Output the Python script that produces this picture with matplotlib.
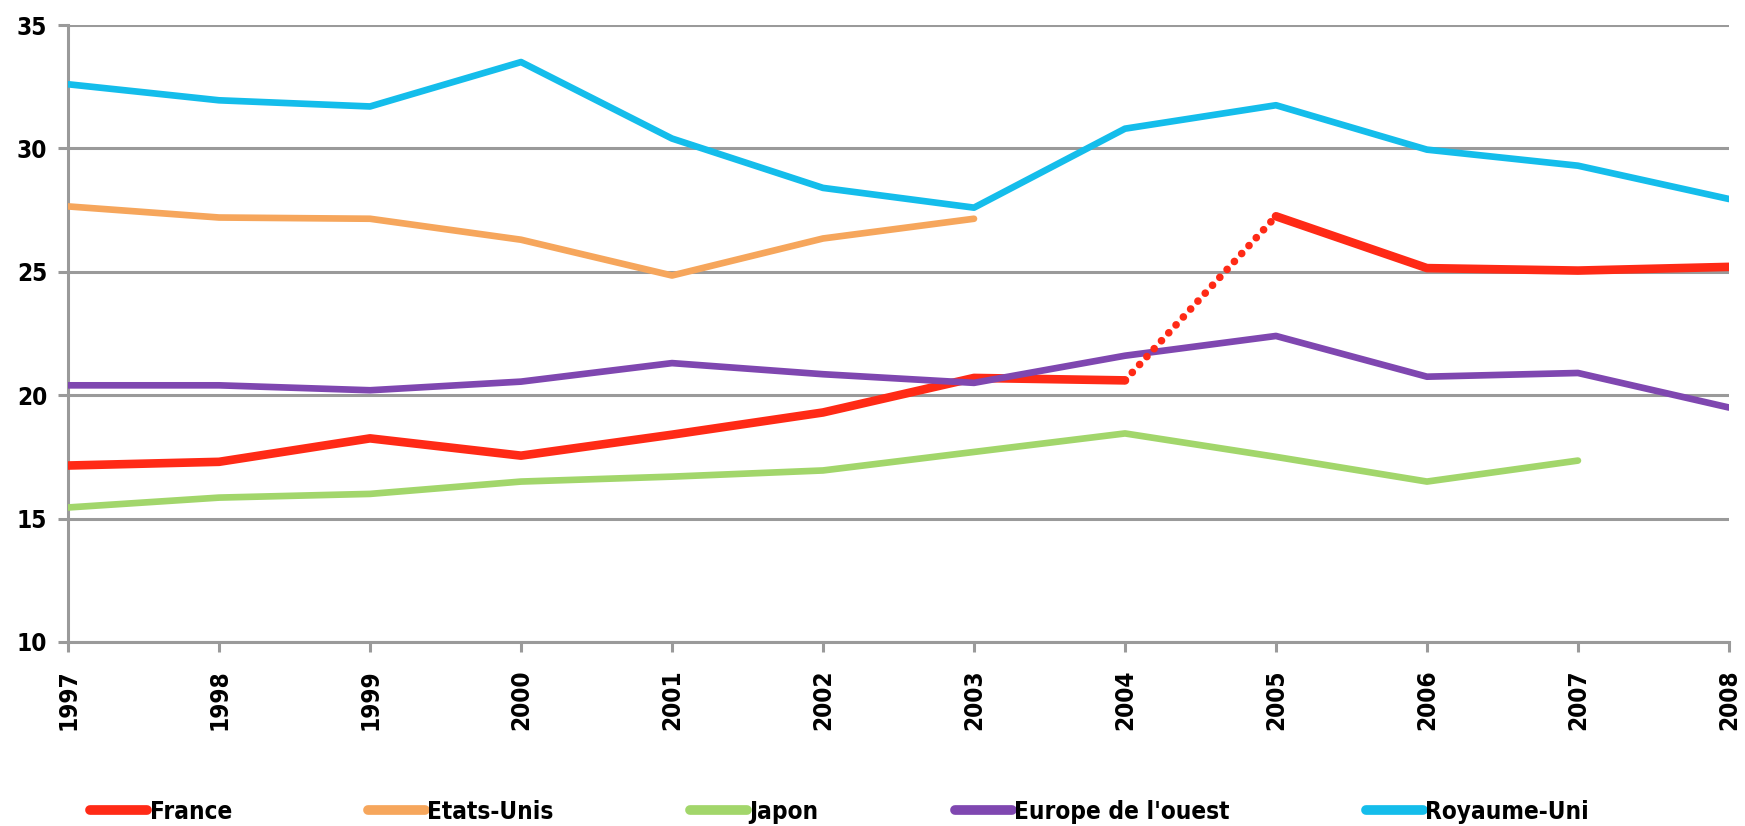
"""
Taux (en %) 1997-2008 : France, Etats-Unis, Japon, Europe de l'ouest, Royaume-Uni.
"""

import numpy as np
import matplotlib
matplotlib.use("Agg")
import matplotlib.pyplot as plt

years = [1997, 1998, 1999, 2000, 2001, 2002, 2003, 2004, 2005, 2006, 2007, 2008]

france = [17.15, 17.3, 18.25, 17.55, 18.4, 19.3, 20.7, 20.6, 27.25, 25.15, 25.05, 25.2]
etats_unis = [27.65, 27.2, 27.15, 26.3, 24.85, 26.35, 27.15]
japon = [15.45, 15.85, 16.0, 16.5, 16.7, 16.95, 17.7, 18.45, 17.5, 16.5, 17.35]
europe = [20.4, 20.4, 20.2, 20.55, 21.3, 20.85, 20.5, 21.6, 22.4, 20.75, 20.9, 19.5]
royaume_uni = [32.6, 31.95, 31.7, 33.5, 30.4, 28.4, 27.6, 30.8, 31.75, 29.95, 29.3, 27.95]

# France: break in series between 2004 and 2005 (drawn dotted)
GAP_START = years.index(2004)

C_FR = "#ff2a16"
C_US = "#f6a65c"
C_JP = "#a2d66b"
C_EU = "#7f47b0"
C_UK = "#14bdeb"
GRID = "#9a9a9a"

plt.rcParams["font.family"] = ["DejaVu Sans"]
plt.rcParams["font.stretch"] = "condensed"
plt.rcParams["font.weight"] = "bold"
FS = 17.5

fig = plt.figure(figsize=(17.45, 8.26), dpi=100)
ax = fig.add_axes([0.039, 0.2228, 0.9518, 0.7469])

lw = 4.8
kw = dict(solid_joinstyle="round", solid_capstyle="round")
ax.plot(years[:GAP_START + 1], france[:GAP_START + 1], color=C_FR, lw=6.2,
        label="France", zorder=3, **kw)
ax.plot(years[GAP_START + 1:], france[GAP_START + 1:], color=C_FR, lw=6.2,
        zorder=3, **kw)
ax.plot(years[GAP_START:GAP_START + 2], france[GAP_START:GAP_START + 2],
        color=C_FR, lw=5.5, linestyle=(0, (0.01, 1.4)), dash_capstyle="round",
        zorder=7)
ax.plot(years[:len(etats_unis)], etats_unis, color=C_US, lw=lw,
        label="Etats-Unis", zorder=4, **kw)
ax.plot(years[:len(japon)], japon, color=C_JP, lw=lw, label="Japon",
        zorder=4, **kw)
ax.plot(years, europe, color=C_EU, lw=lw, label="Europe de l'ouest",
        zorder=5, **kw)
ax.plot(years, royaume_uni, color=C_UK, lw=lw, label="Royaume-Uni",
        zorder=6, **kw)

ax.set_xlim(years[0], years[-1])
ax.set_ylim(10, 35)
ax.set_yticks(range(10, 36, 5))
ax.set_xticks(years)
ax.set_xticklabels([str(y) for y in years], rotation=90, va="top")

ax.yaxis.grid(True, color=GRID, lw=2.2)
ax.xaxis.grid(False)
ax.set_axisbelow(True)
for side in ("top", "right"):
    ax.spines[side].set_visible(False)
for side in ("left", "bottom"):
    ax.spines[side].set_color(GRID)
    ax.spines[side].set_linewidth(2.2)
ax.tick_params(axis="both", colors=GRID, width=2.2, length=7,
               labelcolor="black", labelsize=FS)
ax.tick_params(axis="x", pad=13)
ax.tick_params(axis="y", pad=8)

handles, labels = ax.get_legend_handles_labels()
leg = fig.legend(handles, labels, loc="center left",
                 bbox_to_anchor=(90 / 1745, 1 - 812 / 826), ncol=5,
                 frameon=False, fontsize=FS, handlelength=2.35,
                 handletextpad=0.1, columnspacing=5.6, borderpad=0,
                 borderaxespad=0)
for line in leg.get_lines():
    line.set_linewidth(7)
    line.set_solid_capstyle("round")

fig.savefig("out.png", dpi=100)
plt.close(fig)
